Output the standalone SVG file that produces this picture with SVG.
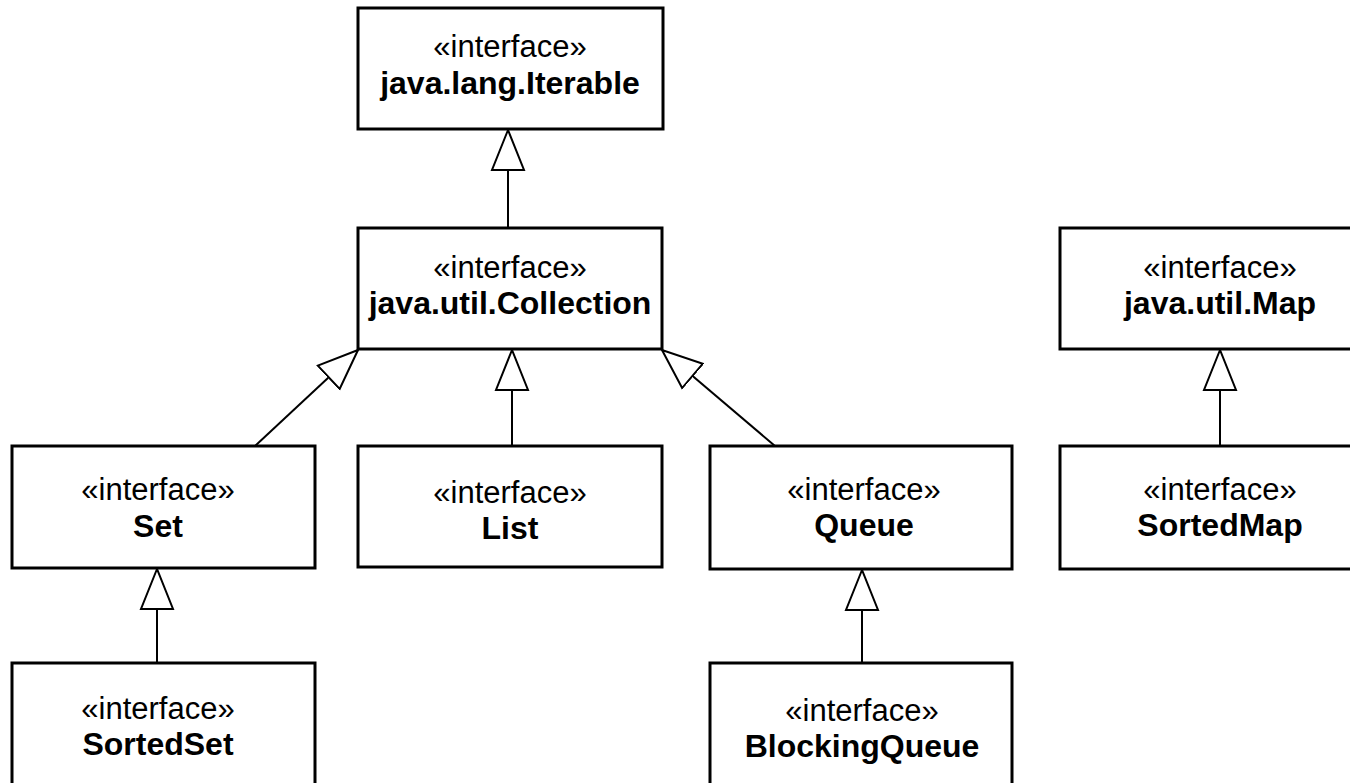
<svg xmlns="http://www.w3.org/2000/svg" width="1350" height="783" viewBox="0 0 1350 783">
  <style>
    .box { fill: #ffffff; stroke: #000000; stroke-width: 3; }
    .stereo { font-family: "Liberation Sans", Arial, sans-serif; font-size: 31px; fill: #000000; text-anchor: middle; }
    .name { font-family: "Liberation Sans", Arial, sans-serif; font-size: 32px; font-weight: bold; fill: #000000; text-anchor: middle; }
    .gen { fill: none; stroke: #000000; stroke-width: 2; marker-end: url(#hollow); }
  </style>
  <defs>
    <!-- UML generalization: hollow triangle pointing at the parent -->
    <marker id="hollow" viewBox="0 0 44 36" refX="41" refY="18" markerWidth="44" markerHeight="36" markerUnits="userSpaceOnUse" orient="auto">
      <path d="M41,18 L1,2 L1,34 Z" fill="#ffffff" stroke="#000000" stroke-width="2" stroke-linejoin="miter"/>
    </marker>
  </defs>

  <rect width="1350" height="783" fill="#ffffff"/>

  <!-- inheritance connectors -->
  <g id="connectors">
    <line class="gen" x1="508" y1="228" x2="508" y2="130"/>
    <line class="gen" x1="255" y1="446" x2="358" y2="350"/>
    <line class="gen" x1="512" y1="446" x2="512" y2="350"/>
    <line class="gen" x1="775" y1="446" x2="662" y2="350"/>
    <line class="gen" x1="157" y1="663" x2="157" y2="569"/>
    <line class="gen" x1="862" y1="663" x2="862" y2="570"/>
    <line class="gen" x1="1220" y1="446" x2="1220" y2="350"/>
  </g>

  <g id="iterable">
    <rect class="box" x="358" y="8" width="305" height="121"/>
    <text class="stereo" x="510" y="57">«interface»</text>
    <text class="name" x="510" y="94">java.lang.Iterable</text>
  </g>

  <g id="collection">
    <rect class="box" x="358" y="228" width="304" height="121"/>
    <text class="stereo" x="510" y="278">«interface»</text>
    <text class="name" x="510" y="314">java.util.Collection</text>
  </g>

  <g id="map">
    <rect class="box" x="1060" y="228" width="320" height="121"/>
    <text class="stereo" x="1220" y="278">«interface»</text>
    <text class="name" x="1220" y="314">java.util.Map</text>
  </g>

  <g id="set">
    <rect class="box" x="12" y="446" width="303" height="122"/>
    <text class="stereo" x="158" y="500">«interface»</text>
    <text class="name" x="158" y="537">Set</text>
  </g>

  <g id="list">
    <rect class="box" x="358" y="446" width="304" height="121"/>
    <text class="stereo" x="510" y="503">«interface»</text>
    <text class="name" x="510" y="539">List</text>
  </g>

  <g id="queue">
    <rect class="box" x="710" y="446" width="302" height="123"/>
    <text class="stereo" x="864" y="500">«interface»</text>
    <text class="name" x="864" y="536">Queue</text>
  </g>

  <g id="sortedmap">
    <rect class="box" x="1060" y="446" width="320" height="123"/>
    <text class="stereo" x="1220" y="500">«interface»</text>
    <text class="name" x="1220" y="536">SortedMap</text>
  </g>

  <g id="sortedset">
    <rect class="box" x="12" y="663" width="303" height="140"/>
    <text class="stereo" x="158" y="719">«interface»</text>
    <text class="name" x="158" y="755">SortedSet</text>
  </g>

  <g id="blockingqueue">
    <rect class="box" x="710" y="663" width="302" height="140"/>
    <text class="stereo" x="862" y="721">«interface»</text>
    <text class="name" x="862" y="757">BlockingQueue</text>
  </g>
</svg>
